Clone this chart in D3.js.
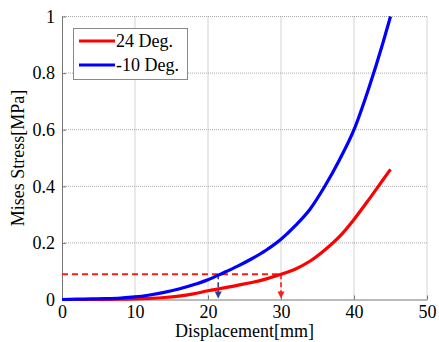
<!DOCTYPE html>
<html><head><meta charset="utf-8">
<script src="https://cdn.jsdelivr.net/npm/d3@7"></script>
<style>
body{margin:0;background:#fff;}
svg{display:block;font-family:"Liberation Serif","Times New Roman",serif;}
</style></head>
<body><svg id="c" width="439" height="342"></svg>
<script>
// ---- data ----
const seriesNames = ["24 Deg.", "-10 Deg."];
const redX = [0,4,8,10,12,14,16,18,20,22,24,26,28,30,32,34,36,38,40,42,44,45];
const redY = [0,0,0.001,0.002,0.004,0.007,0.012,0.020,0.031,0.040,0.050,0.060,0.073,0.089,0.108,0.136,0.175,0.222,0.283,0.352,0.424,0.460];
const blueX = [0,2,4,6,8,10,12,14,16,18,20,22,24,26,28,30,32,34,36,38,40,42,44,45];
const blueY = [0,0.001,0.002,0.003,0.005,0.009,0.016,0.025,0.037,0.052,0.070,0.093,0.117,0.144,0.175,0.213,0.262,0.320,0.400,0.493,0.600,0.745,0.910,1.0];
const xTicks = [0,10,20,30,40,50];
const yTicks = [0,0.2,0.4,0.6,0.8,1];
const yTickLabels = ["0","0.2","0.4","0.6","0.8","1"];
const threshold = 0.089;      // stress level of dashed guide
const redCross = 30;          // displacement where 24 Deg. reaches threshold
const blueCross = 21.4;       // displacement where -10 Deg. reaches threshold
const xLabel = "Displacement[mm]";
const yLabel = "Mises Stress[MPa]";

// ---- layout ----
const svg = d3.select("#c");
const L = 62, T = 16.5, W = 365, H = 283;
const x = d3.scaleLinear().domain([0,50]).range([L, L+W]);
const y = d3.scaleLinear().domain([0,1]).range([T+H, T]);

// grid
const g = svg.append("g");
g.selectAll(".gx").data(xTicks.filter(d=>d>0)).enter().append("line")
  .attr("x1",d=>x(d)).attr("x2",d=>x(d)).attr("y1",y(0)).attr("y2",y(1))
  .attr("stroke","#a8a8a8").attr("stroke-width",1).attr("stroke-dasharray","1,1");
g.selectAll(".gy").data(yTicks.filter(d=>d>0)).enter().append("line")
  .attr("y1",d=>y(d)).attr("y2",d=>y(d)).attr("x1",x(0)).attr("x2",x(50))
  .attr("stroke","#a8a8a8").attr("stroke-width",1).attr("stroke-dasharray","1,1");

// axes
const xAxis = d3.axisBottom(x).tickValues(xTicks).tickSizeInner(-4).tickSizeOuter(0).tickPadding(6).tickFormat(d3.format("d"));
const yAxis = d3.axisLeft(y).tickValues(yTicks).tickSizeInner(-4).tickSizeOuter(0).tickPadding(7).tickFormat((d,i)=>yTickLabels[i]);
const gx = svg.append("g").attr("transform",`translate(0,${y(0)})`).call(xAxis);
const gy = svg.append("g").attr("transform",`translate(${x(0)},0)`).call(yAxis);
[gx,gy].forEach(a=>{
  a.attr("font-family","Liberation Serif").attr("font-size",18);
  a.select(".domain").attr("stroke","#777");
  a.selectAll(".tick line").attr("stroke","#777");
  a.selectAll("text").attr("fill","#000");
});

// curves
const line = d3.line().x(d=>x(d[0])).y(d=>y(d[1])).curve(d3.curveMonotoneX);
const redData = redX.map((v,i)=>[v,redY[i]]);
const blueData = blueX.map((v,i)=>[v,blueY[i]]);

// dashed guides
svg.append("line").attr("x1",x(0)).attr("x2",x(redCross)).attr("y1",y(threshold)).attr("y2",y(threshold))
  .attr("stroke","#ff1a1a").attr("stroke-width",2).attr("stroke-dasharray","6,4");
function vArrow(xv,color){
  const px = x(xv), top = y(threshold), bot = y(0)-1;
  svg.append("line").attr("x1",px).attr("x2",px).attr("y1",top).attr("y2",bot-6)
    .attr("stroke",color).attr("stroke-width",1.6).attr("stroke-dasharray","5,3");
  svg.append("path").attr("d",`M${px-3.5},${bot-7}L${px+3.5},${bot-7}L${px},${bot}Z`).attr("fill",color);
}
vArrow(blueCross,"#2f3f96");
vArrow(redCross,"#ff1a1a");

svg.append("path").datum(redData).attr("d",line).attr("fill","none").attr("stroke","#ff0000").attr("stroke-width",3.2);
svg.append("path").datum(blueData).attr("d",line).attr("fill","none").attr("stroke","#0000ff").attr("stroke-width",3.2);

// legend
const lg = svg.append("g");
lg.append("rect").attr("x",73.5).attr("y",28.5).attr("width",114).attr("height",51)
  .attr("fill","#fff").attr("stroke","#8a8a8a").attr("stroke-width",1);
const colors = ["#ff0000","#0000ff"];
seriesNames.forEach((n,i)=>{
  const yy = 41 + i*24;
  lg.append("line").attr("x1",79).attr("x2",115).attr("y1",yy).attr("y2",yy).attr("stroke",colors[i]).attr("stroke-width",3.2);
  lg.append("text").attr("x",116).attr("y",yy+6).text(n).attr("font-size",18);
});

// axis labels
svg.append("text").attr("x",x(25)).attr("y",337).attr("text-anchor","middle").text(xLabel).attr("font-size",18);
svg.append("text").attr("transform",`translate(24,${(y(0)+y(1))/2}) rotate(-90)`).attr("text-anchor","middle").text(yLabel).attr("font-size",18);
</script></body></html>
